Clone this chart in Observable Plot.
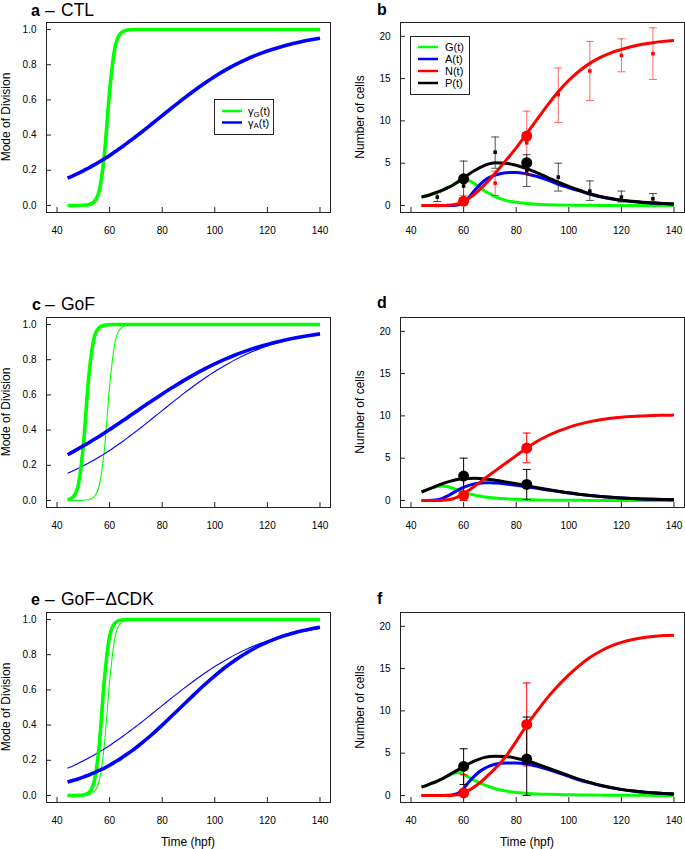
<!DOCTYPE html>
<html><head><meta charset="utf-8">
<script src="https://cdn.jsdelivr.net/npm/d3@7"></script>
<script src="https://cdn.jsdelivr.net/npm/@observablehq/plot@0.6"></script>
<style>
body{margin:0;background:#fff;}
#root{position:relative;width:685px;height:849px;overflow:hidden;background:#fff;}
#root svg{position:absolute;}
</style></head><body><div id="root"></div>
<script>
// ---------- data ----------
const time = [44,46,48,50,52,54,56,58,60,62,64,66,68,70,72,76,80,84,88,92,96,100,104,108,112,116,120,124,128,132,136,140];

// mode of division (panels a, c, e)
const gammaG_CTL = [0,0,0.0002,0.001,0.004,0.019,0.081,0.287,0.648,0.894,0.975,0.994,0.999,1,1,1,1,1,1,1,1,1,1,1,1,1,1,1,1,1,1,1];
const gammaA_CTL = [0.155,0.168,0.182,0.197,0.213,0.229,0.247,0.265,0.284,0.305,0.325,0.347,0.369,0.392,0.415,0.463,0.511,0.559,0.606,0.651,0.693,0.733,0.769,0.802,0.831,0.856,0.878,0.897,0.914,0.928,0.940,0.950];
const gammaG_GoF = [0.004,0.018,0.083,0.31,0.69,0.917,0.982,0.996,0.999,1,1,1,1,1,1,1,1,1,1,1,1,1,1,1,1,1,1,1,1,1,1,1];
const gammaA_GoF = [0.260,0.276,0.293,0.310,0.327,0.346,0.364,0.384,0.403,0.423,0.443,0.463,0.484,0.504,0.525,0.565,0.605,0.643,0.680,0.714,0.746,0.776,0.803,0.828,0.850,0.870,0.887,0.902,0.916,0.928,0.938,0.947];
const gammaG_dCDK = [0,0,0.001,0.003,0.015,0.072,0.277,0.655,0.904,0.979,0.996,0.999,1,1,1,1,1,1,1,1,1,1,1,1,1,1,1,1,1,1,1,1];
const gammaA_dCDK = [0.076,0.085,0.094,0.104,0.116,0.128,0.142,0.156,0.172,0.190,0.208,0.228,0.249,0.271,0.295,0.345,0.400,0.457,0.514,0.572,0.628,0.680,0.729,0.772,0.810,0.844,0.872,0.896,0.915,0.932,0.945,0.956];

// number of cells (panels b, d, f)
const G_CTL = [1.0,1.15,1.35,1.57,1.82,2.1,2.42,2.78,3.05,2.95,2.6,2.15,1.72,1.38,1.05,0.6,0.38,0.24,0.14,0.09,0.06,0.04,0.03,0.02,0.01,0.01,0.01,0,0,0,0,0];
const A_CTL = [0,0,0,0,0,0,0,0.08,0.35,0.95,1.7,2.4,2.95,3.35,3.6,3.88,3.9,3.72,3.42,3.0,2.5,2.1,1.72,1.33,1.03,0.8,0.61,0.47,0.36,0.28,0.22,0.17];
const N_CTL = [0,0,0,0,0,0.02,0.08,0.22,0.5,0.85,1.3,1.85,2.45,3.1,3.8,5.3,6.8,8.5,10.2,11.9,13.45,14.8,15.9,16.8,17.5,18.05,18.45,18.8,19.05,19.25,19.4,19.5];
const P_CTL = [1.0,1.15,1.35,1.57,1.82,2.1,2.42,2.82,3.25,3.7,4.1,4.45,4.75,4.95,5.05,5.0,4.75,4.35,3.85,3.3,2.75,2.25,1.8,1.38,1.07,0.83,0.63,0.49,0.37,0.29,0.23,0.18];

const G_GoF = [1.0,1.25,1.48,1.65,1.72,1.62,1.42,1.2,0.98,0.8,0.65,0.52,0.42,0.34,0.28,0.19,0.13,0.09,0.06,0.04,0.03,0.02,0.015,0.01,0.01,0.01,0,0,0,0,0,0];
const A_GoF = [0,0,0.02,0.08,0.25,0.55,0.9,1.25,1.55,1.78,1.94,2.04,2.08,2.08,2.05,1.95,1.8,1.62,1.43,1.24,1.05,0.87,0.72,0.58,0.47,0.37,0.29,0.22,0.17,0.13,0.1,0.08];
const N_GoF = [0,0,0,0,0.02,0.08,0.2,0.45,0.8,1.2,1.65,2.1,2.6,3.05,3.5,4.4,5.3,6.2,7.0,7.65,8.2,8.65,9.02,9.32,9.55,9.72,9.84,9.93,9.99,10.04,10.07,10.1];
const P_GoF = [1.0,1.25,1.5,1.75,2.0,2.2,2.37,2.5,2.57,2.61,2.62,2.6,2.55,2.48,2.4,2.2,1.98,1.75,1.52,1.3,1.1,0.9,0.74,0.6,0.48,0.38,0.3,0.23,0.18,0.14,0.11,0.09];

const G_dCDK = [1.0,1.2,1.45,1.7,2.0,2.3,2.58,2.72,2.5,2.15,1.8,1.5,1.25,1.0,0.8,0.52,0.36,0.26,0.18,0.13,0.1,0.08,0.06,0.05,0.04,0.03,0.03,0.02,0.02,0.01,0.01,0.01];
const A_dCDK = [0,0,0,0,0,0.02,0.1,0.3,0.85,1.6,2.25,2.8,3.2,3.5,3.7,3.85,3.85,3.72,3.45,3.08,2.68,2.25,1.83,1.5,1.18,0.92,0.69,0.53,0.4,0.31,0.23,0.17];
const N_dCDK = [0,0,0,0,0,0,0.02,0.1,0.3,0.6,1.0,1.45,2.0,2.6,3.2,4.6,6.4,8.3,10.0,11.6,13.0,14.25,15.35,16.3,17.05,17.65,18.1,18.42,18.64,18.8,18.9,18.95];
const P_dCDK = [1.0,1.2,1.45,1.7,2.0,2.35,2.7,3.05,3.4,3.75,4.05,4.3,4.5,4.6,4.65,4.6,4.4,4.1,3.7,3.25,2.8,2.35,1.9,1.55,1.22,0.95,0.72,0.55,0.42,0.32,0.24,0.18];

// time-course observations (panel b)
const obsTime = [50,60,72,84,96,108,120,132];
const obsP = [0.99,2.3,6.3,4.1,3.35,1.7,0.99,0.79];
const obsP_lo = [0.47,0.9,4.4,2.25,1.7,0.6,0.4,0.47];
const obsP_hi = [1.5,5.25,8.1,6.0,5.0,2.9,1.7,1.4];
const obsN = [0,0.2,2.64,7.4,13.1,15.9,17.75,17.95];
const obsN_lo = [0,0,1.18,3.65,9.8,12.4,15.8,14.9];
const obsN_hi = [0,1.2,4.06,11.15,16.25,19.4,19.7,21.0];

// snapshot observations at 60 and 84 hpf
const dotTime = [60,84];
const dotP_CTL = [3.15,5.05];
const dotN_CTL = [0.5,8.2];
const dotP_GoF = [2.88,1.9], dotP_GoF_lo = [0.76,0.12], dotP_GoF_hi = [5.0,3.67];
const dotN_GoF = [0.6,6.2], dotN_GoF_lo = [0,4.45], dotN_GoF_hi = [2.7,7.97];
const dotP_dCDK = [3.43,4.3], dotP_dCDK_lo = [1.3,0], dotP_dCDK_hi = [5.52,9.27];
const dotN_dCDK = [0.3,8.4], dotN_dCDK_lo = [0,3.5], dotN_dCDK_hi = [2.45,13.3];

// axes
const xTicks = [40,60,80,100,120,140];
const modeTicks = [0,0.2,0.4,0.6,0.8,1.0];
const cellTicks = [0,5,10,15,20];
const xDomain = [36,144];
const modeDomain = [-0.04,1.04];
const cellDomain = [-0.832,21.632];

// ---------- drawing ----------
const GREEN = "#00ff00", BLUE = "#0000ff", RED = "#ff0000", BLACK = "#000000";
const FONT = "'Liberation Sans', Arial, Helvetica, sans-serif";
const root = document.getElementById("root");
const cap = {draw(ctx, size){ const r = Math.sqrt(size / Math.PI); ctx.moveTo(-r, 0); ctx.lineTo(r, 0); }};

const series = v => time.map((t, i) => ({t, v: v[i]}));
const pts = (ts, v, lo, hi) => ts.map((t, i) => ({t, v: v[i], lo: lo ? lo[i] : null, hi: hi ? hi[i] : null}));

function panel(cfg){
  const fh = 190, fw = cfg.width - cfg.ml - cfg.mr;
  const marks = [];
  for (const l of cfg.lines) marks.push(Plot.line(series(l.v), {x: "t", y: "v", stroke: l.c, strokeWidth: l.w, curve: "monotone-x", strokeLinecap: "butt"}));
  for (const b of (cfg.bars || [])) {
    marks.push(Plot.ruleX(b.d, {x: "t", y1: "lo", y2: "hi", stroke: b.c, strokeOpacity: b.o, strokeWidth: 1}));
    marks.push(Plot.dot(b.d, {x: "t", y: "lo", symbol: cap, r: 4, stroke: b.c, strokeOpacity: b.o, fill: "none", strokeWidth: 1}));
    marks.push(Plot.dot(b.d, {x: "t", y: "hi", symbol: cap, r: 4, stroke: b.c, strokeOpacity: b.o, fill: "none", strokeWidth: 1}));
  }
  for (const s of (cfg.squares || [])) marks.push(Plot.dot(s.d, {x: "t", y: "v", symbol: "square", r: 2, fill: s.c, stroke: "none"}));
  for (const s of (cfg.dots || [])) marks.push(Plot.dot(s.d, {x: "t", y: "v", r: 5.5, fill: s.c, stroke: "none"}));
  marks.push(
    Plot.frame({stroke: "#222", strokeWidth: 1}),
    Plot.tickX(xTicks, {x: d => d, insetTop: fh - 5, stroke: "#222"}),
    Plot.tickY(cfg.yTicks, {y: d => d, insetRight: fw - 5, stroke: "#222"}),
    Plot.axisX({ticks: xTicks, tickSize: 0, tickPadding: 14, label: null}),
    Plot.axisY({ticks: cfg.yTicks, tickSize: 0, tickPadding: 10, tickFormat: cfg.fmt, label: null})
  );
  const svg = Plot.plot({
    width: cfg.width, height: cfg.height,
    marginLeft: cfg.ml, marginRight: cfg.mr, marginTop: 22, marginBottom: cfg.height - 22 - fh,
    style: {fontFamily: FONT, fontSize: "10px", color: "#000", background: "transparent", overflow: "visible"},
    x: {domain: xDomain},
    y: {domain: cfg.yDomain},
    marks
  });
  svg.style.left = cfg.left + "px";
  svg.style.top = cfg.top + "px";
  root.appendChild(svg);
}

const fmt1 = d3.format(".1f"), fmt0 = d3.format("d");
const L = {width: 340, ml: 46, mr: 10, left: 0, yDomain: modeDomain, yTicks: modeTicks, fmt: fmt1};
const R = {width: 345, ml: 60, mr: 1, left: 340, yDomain: cellDomain, yTicks: cellTicks, fmt: fmt0};

// a
panel({...L, top: 0, height: 280, lines: [
  {v: gammaG_CTL, c: GREEN, w: 3.6}, {v: gammaA_CTL, c: BLUE, w: 3.6}]});
// c
panel({...L, top: 295, height: 280, lines: [
  {v: gammaG_CTL, c: GREEN, w: 1.1}, {v: gammaA_CTL, c: BLUE, w: 1.1},
  {v: gammaG_GoF, c: GREEN, w: 3.6}, {v: gammaA_GoF, c: BLUE, w: 3.6}]});
// e
panel({...L, top: 590, height: 259, lines: [
  {v: gammaG_CTL, c: GREEN, w: 1.1}, {v: gammaA_CTL, c: BLUE, w: 1.1},
  {v: gammaG_dCDK, c: GREEN, w: 3.6}, {v: gammaA_dCDK, c: BLUE, w: 3.6}]});

// b
panel({...R, top: 0, height: 280,
  lines: [{v: G_CTL, c: GREEN, w: 3}, {v: A_CTL, c: BLUE, w: 3}, {v: P_CTL, c: BLACK, w: 3}, {v: N_CTL, c: RED, w: 3}],
  bars: [{d: pts(obsTime, obsN, obsN_lo, obsN_hi), c: RED, o: 0.6}, {d: pts(obsTime, obsP, obsP_lo, obsP_hi), c: "#222", o: 0.8}],
  squares: [{d: pts(obsTime, obsN), c: RED}, {d: pts(obsTime, obsP), c: BLACK}],
  dots: [{d: pts(dotTime, dotN_CTL), c: RED}, {d: pts(dotTime, dotP_CTL), c: BLACK}]});
// d
panel({...R, top: 295, height: 280,
  lines: [{v: G_GoF, c: GREEN, w: 3}, {v: A_GoF, c: BLUE, w: 3}, {v: P_GoF, c: BLACK, w: 3}, {v: N_GoF, c: RED, w: 3}],
  bars: [{d: pts(dotTime, dotN_GoF, dotN_GoF_lo, dotN_GoF_hi), c: RED, o: 1}, {d: pts(dotTime, dotP_GoF, dotP_GoF_lo, dotP_GoF_hi), c: BLACK, o: 1}],
  dots: [{d: pts(dotTime, dotN_GoF), c: RED}, {d: pts(dotTime, dotP_GoF), c: BLACK}]});
// f
panel({...R, top: 590, height: 259,
  lines: [{v: G_dCDK, c: GREEN, w: 3}, {v: A_dCDK, c: BLUE, w: 3}, {v: P_dCDK, c: BLACK, w: 3}, {v: N_dCDK, c: RED, w: 3}],
  bars: [{d: pts(dotTime, dotN_dCDK, dotN_dCDK_lo, dotN_dCDK_hi), c: RED, o: 1}, {d: pts(dotTime, dotP_dCDK, dotP_dCDK_lo, dotP_dCDK_hi), c: BLACK, o: 1}],
  dots: [{d: pts(dotTime, dotN_dCDK), c: RED}, {d: pts(dotTime, dotP_dCDK), c: BLACK}]});

// ---------- titles, axis labels, legends ----------
const overlay = `
<svg width="685" height="849" style="left:0;top:0" font-family="${FONT}" fill="#000">
  <text x="31" y="16" font-size="16" font-weight="bold">a</text>
  <text x="45" y="16" font-size="17.5">–</text>
  <text x="61" y="16" font-size="17.5">CTL</text>
  <text x="32" y="310" font-size="16" font-weight="bold">c</text>
  <text x="45" y="310" font-size="17.5">–</text>
  <text x="61" y="310" font-size="17.5">GoF</text>
  <text x="31" y="605" font-size="16" font-weight="bold">e</text>
  <text x="45" y="605" font-size="17.5">–</text>
  <text x="61" y="605" font-size="17.5">GoF−ΔCDK</text>
  <text x="377" y="15" font-size="16" font-weight="bold">b</text>
  <text x="377" y="308" font-size="16" font-weight="bold">d</text>
  <text x="377" y="604" font-size="16" font-weight="bold">f</text>

  <text transform="translate(10,117) rotate(-90)" text-anchor="middle" font-size="12">Mode of Division</text>
  <text transform="translate(10,412) rotate(-90)" text-anchor="middle" font-size="12">Mode of Division</text>
  <text transform="translate(10,707) rotate(-90)" text-anchor="middle" font-size="12">Mode of Division</text>
  <text transform="translate(364,117) rotate(-90)" text-anchor="middle" font-size="12">Number of cells</text>
  <text transform="translate(364,412) rotate(-90)" text-anchor="middle" font-size="12">Number of cells</text>
  <text transform="translate(364,707) rotate(-90)" text-anchor="middle" font-size="12">Number of cells</text>
  <text x="188" y="846" text-anchor="middle" font-size="12">Time (hpf)</text>
  <text x="527" y="846" text-anchor="middle" font-size="12">Time (hpf)</text>

  <rect x="214.5" y="99.5" width="59" height="35" fill="#fff" stroke="#222"/>
  <line x1="222" x2="242" y1="111" y2="111" stroke="${GREEN}" stroke-width="2.5"/>
  <line x1="222" x2="242" y1="122.5" y2="122.5" stroke="${BLUE}" stroke-width="2.5"/>
  <text x="248" y="115" font-size="11">γ<tspan font-size="8" dy="1.5">G</tspan><tspan dy="-1.5">(t)</tspan></text>
  <text x="248" y="126.5" font-size="11">γ<tspan font-size="8" dy="1.5">A</tspan><tspan dy="-1.5">(t)</tspan></text>

  <rect x="410.5" y="36.5" width="59" height="58" fill="#fff" stroke="#222"/>
  <line x1="418" x2="438" y1="47" y2="47" stroke="${GREEN}" stroke-width="2.5"/>
  <line x1="418" x2="438" y1="59" y2="59" stroke="${BLUE}" stroke-width="2.5"/>
  <line x1="418" x2="438" y1="71" y2="71" stroke="${RED}" stroke-width="2.5"/>
  <line x1="418" x2="438" y1="83" y2="83" stroke="${BLACK}" stroke-width="2.5"/>
  <text x="445" y="51" font-size="11">G(t)</text>
  <text x="445" y="63" font-size="11">A(t)</text>
  <text x="445" y="75" font-size="11">N(t)</text>
  <text x="445" y="87" font-size="11">P(t)</text>
</svg>`;
root.insertAdjacentHTML("beforeend", overlay);
</script>
</body></html>
